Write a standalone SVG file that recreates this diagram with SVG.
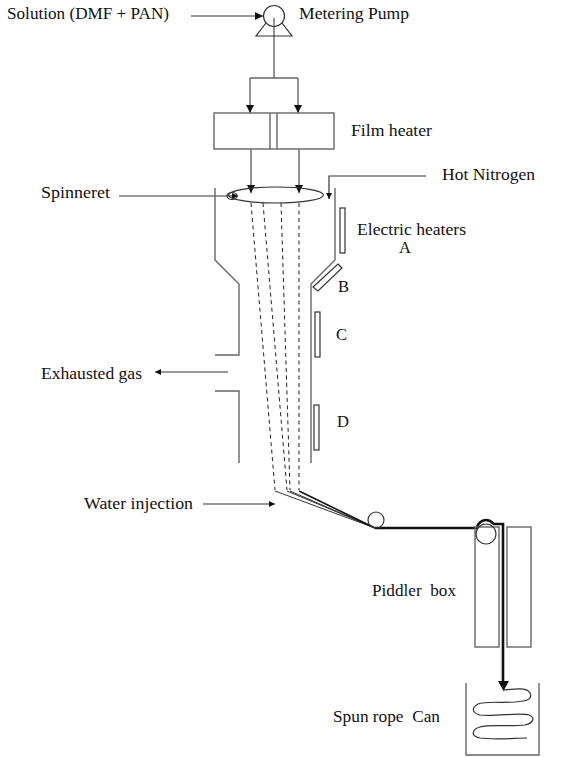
<svg xmlns="http://www.w3.org/2000/svg" width="573" height="757" viewBox="0 0 573 757">
<style>
text{font-family:"Liberation Serif","DejaVu Serif",serif;font-size:16.5px;fill:#111;lengthAdjust:spacingAndGlyphs}
.l{fill:none;stroke:#333;stroke-width:1.2}
.g{fill:none;stroke:#666;stroke-width:1.4}
.d{fill:none;stroke:#222;stroke-width:1;stroke-dasharray:4 3.5}
.s{fill:none;stroke:#333;stroke-width:1}
</style>
<defs>
<marker id="a" markerUnits="userSpaceOnUse" markerWidth="9" markerHeight="9" refX="8" refY="4" orient="auto"><path d="M0 0L8 4L0 8Z" fill="#111"/></marker>
<marker id="m" markerUnits="userSpaceOnUse" markerWidth="7" markerHeight="7" refX="6" refY="3" orient="auto"><path d="M0 0L6 3L0 6Z" fill="#111"/></marker>
</defs>
<rect width="573" height="757" fill="#fff"/>
<g id="connectors">
<path class="l" d="M191 16H263" marker-end="url(#a)"/>
<path class="g" d="M274 18V78M250 78H298"/>
<path class="g" d="M250 78V113" marker-end="url(#a)"/>
<path class="g" d="M298 78V113" marker-end="url(#a)"/>
<path class="g" d="M251 149V193" marker-end="url(#a)"/>
<path class="g" d="M299 149V193" marker-end="url(#a)"/>
<path class="l" d="M119 196H238" marker-end="url(#m)"/>
<path class="l" d="M426 176H329V199" marker-end="url(#m)"/>
<path class="l" d="M228 372H155" marker-end="url(#m)"/>
<path class="l" d="M203 504H275" marker-end="url(#m)"/>
<path class="d" d="M251 203L275 490"/>
<path class="d" d="M263 203L287 490"/>
<path class="d" d="M281 203L290 490"/>
<path class="d" d="M299 203V490"/>
<path class="s" d="M275 491L375 528M287 491L375 528M290 491L375 528"/>
<path d="M299 491L375 528" fill="none" stroke="#111" stroke-width="1.6"/>
<path d="M375 528H477C478 522 483 520 486 520C490 520 492 522 494 524H503V684" fill="none" stroke="#111" stroke-width="2.6"/>
<path d="M498 681H509L503.500 691Z" fill="#111"/>
<path d="M503 690C515 689 527 687 530 693C533 700 526 701 515 702C500 703 485 701 478 704C471 708 472 713 480 715C495 717 520 712 529 715C536 718 533 723 525 725C510 727 490 724 480 727C471 730 471 736 480 738C495 740 515 738 527 738" fill="none" stroke="#333" stroke-width="1.2"/>
</g>
<g id="metering-pump"><circle class="l" cx="274" cy="16" r="10.500"/><path class="l" d="M266 23L256 36H292L282 23"/><text x="299" y="19" textLength="110" lengthAdjust="spacingAndGlyphs">Metering Pump</text></g>
<g id="solution"><text x="7" y="19" textLength="162" lengthAdjust="spacingAndGlyphs">Solution (DMF + PAN)</text></g>
<g id="film-heater"><rect class="g" x="214" y="113" width="120" height="36"/><path class="g" d="M270 113V149M277 113V149"/><text x="351" y="136" textLength="81" lengthAdjust="spacingAndGlyphs">Film heater</text></g>
<g id="spinneret"><ellipse class="l" cx="276" cy="195" rx="47.500" ry="8"/><ellipse class="l" cx="232" cy="196" rx="5" ry="3.500"/><text x="41" y="198" textLength="69" lengthAdjust="spacingAndGlyphs">Spinneret</text></g>
<g id="chamber">
<path class="g" d="M215 188V260L239 284V355H215"/>
<path class="g" d="M215 391H239V463"/>
<path class="g" d="M335 188V260L311 284V463"/>
</g>
<g id="heater-a"><rect class="l" x="340" y="208" width="5" height="45"/><text x="357" y="235" textLength="109" lengthAdjust="spacingAndGlyphs">Electric heaters</text><text x="399" y="253">A</text></g>
<g id="heater-b"><path class="l" d="M338 264L342 268L318 291L313 287Z"/><text x="338" y="292">B</text></g>
<g id="heater-c"><rect class="l" x="315" y="312" width="5" height="45"/><text x="336" y="340">C</text></g>
<g id="heater-d"><rect class="l" x="314" y="405" width="5" height="45"/><text x="337" y="427">D</text></g>
<g id="labels"><text x="442" y="180" textLength="93" lengthAdjust="spacingAndGlyphs">Hot Nitrogen</text><text x="41" y="379" textLength="101" lengthAdjust="spacingAndGlyphs">Exhausted gas</text><text x="84" y="509" textLength="109" lengthAdjust="spacingAndGlyphs">Water injection</text></g>
<g id="roller-1"><circle class="l" cx="376" cy="520" r="8"/></g>
<g id="piddler-box"><rect class="g" x="475" y="527" width="24" height="120"/><rect class="g" x="507" y="527" width="24" height="120"/><circle class="l" cx="486" cy="534" r="10"/><text x="372" y="596" textLength="84" lengthAdjust="spacingAndGlyphs" xml:space="preserve">Piddler  box</text></g>
<g id="can"><path class="g" d="M466 683V755H539V683"/><text x="333" y="722" textLength="107" lengthAdjust="spacingAndGlyphs" xml:space="preserve">Spun rope  Can</text></g>
</svg>
